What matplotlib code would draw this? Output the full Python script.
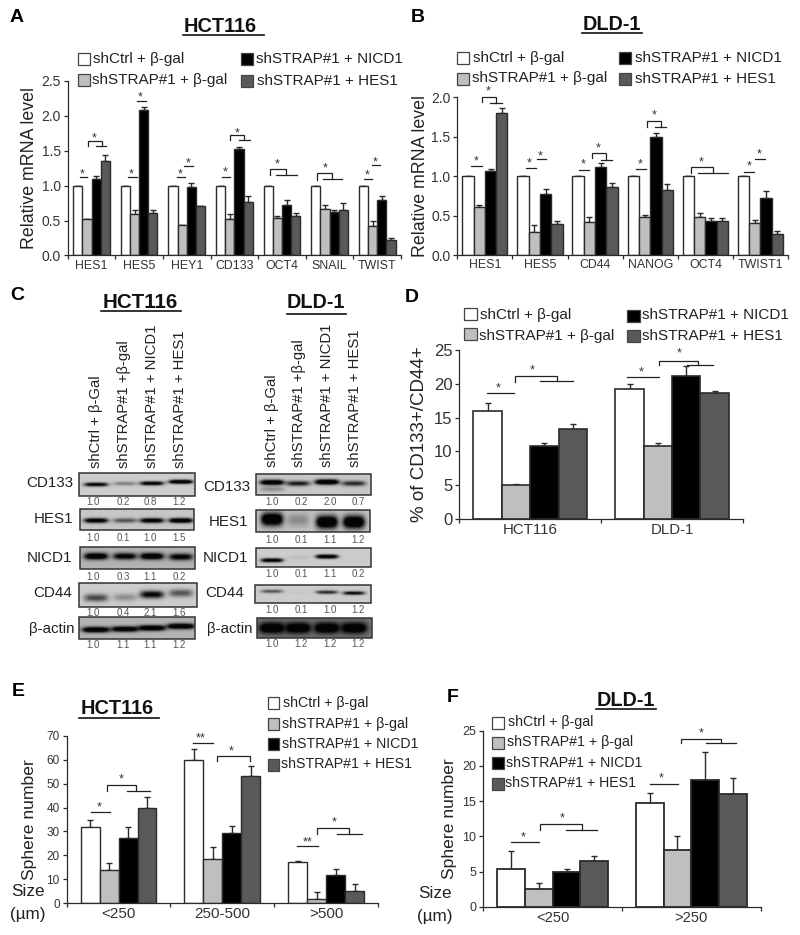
import numpy as np
import matplotlib
matplotlib.use('Agg')
import matplotlib.pyplot as plt
from matplotlib.patches import Rectangle

plt.rcParams['font.family'] = ['Liberation Sans', 'DejaVu Sans']

W, H = 800, 935
COLORS = ['white', '#bfbfbf', 'black', '#595959']
EDGE = '#2b2b2b'
TXT = '#222222'
LEGEND = ['shCtrl + β-gal', 'shSTRAP#1 + β-gal', 'shSTRAP#1 + NICD1', 'shSTRAP#1 + HES1']

# panel A
a_genes = ['HES1', 'HES5', 'HEY1', 'CD133', 'OCT4', 'SNAIL', 'TWIST']
a_ctrl = [1.0, 1.0, 1.0, 1.0, 1.0, 1.0, 1.0]
a_strap = [0.52, 0.60, 0.44, 0.52, 0.54, 0.66, 0.42]
a_nicd = [1.10, 2.08, 0.98, 1.53, 0.72, 0.62, 0.80]
a_hes = [1.35, 0.61, 0.71, 0.77, 0.57, 0.65, 0.22]
a_strap_err = [0.0, 0.05, 0.0, 0.08, 0.03, 0.06, 0.07]
a_nicd_err = [0.04, 0.05, 0.06, 0.03, 0.07, 0.03, 0.05]
a_hes_err = [0.09, 0.04, 0.0, 0.08, 0.04, 0.10, 0.03]

# panel B
b_genes = ['HES1', 'HES5', 'CD44', 'NANOG', 'OCT4', 'TWIST1']
b_ctrl = [1.0, 1.0, 1.0, 1.0, 1.0, 1.0]
b_strap = [0.61, 0.30, 0.42, 0.48, 0.48, 0.41]
b_nicd = [1.07, 0.77, 1.12, 1.50, 0.43, 0.72]
b_hes = [1.80, 0.40, 0.87, 0.83, 0.43, 0.27]
b_strap_err = [0.03, 0.08, 0.07, 0.03, 0.06, 0.04]
b_nicd_err = [0.02, 0.07, 0.05, 0.05, 0.04, 0.10]
b_hes_err = [0.06, 0.03, 0.05, 0.07, 0.04, 0.04]

# panel D
d_lines = ['HCT116', 'DLD-1']
d_ctrl = [16.0, 19.2]
d_strap = [5.0, 10.8]
d_nicd = [10.8, 21.1]
d_hes = [13.3, 18.7]
d_ctrl_err = [1.2, 0.8]
d_strap_err = [0.2, 0.4]
d_nicd_err = [0.4, 1.5]
d_hes_err = [0.8, 0.2]

# panel E
e_sizes = ['<250', '250-500', '>500']
e_ctrl = [32.0, 60.0, 17.2]
e_strap = [14.0, 18.5, 2.0]
e_nicd = [27.3, 29.2, 12.0]
e_hes = [39.7, 53.0, 5.2]
e_ctrl_err = [3.0, 4.5, 0.6]
e_strap_err = [2.8, 5.0, 2.6]
e_nicd_err = [4.5, 3.0, 2.4]
e_hes_err = [4.7, 4.3, 3.0]

# panel F
f_sizes = ['<250', '>250']
f_ctrl = [5.4, 14.7]
f_strap = [2.5, 8.0]
f_nicd = [5.0, 18.0]
f_hes = [6.5, 16.0]
f_ctrl_err = [2.5, 1.5]
f_strap_err = [0.8, 2.0]
f_nicd_err = [0.4, 4.0]
f_hes_err = [0.7, 2.3]

# panel C, band strength per lane and the quantification under each blot
blot_lanes = ['shCtrl + β-Gal', 'shSTRAP#1 +β-gal', 'shSTRAP#1 + NICD1', 'shSTRAP#1 + HES1']
hct_cd133 = [0.75, 0.25, 0.80, 0.95]
hct_hes1 = [0.85, 0.40, 0.85, 0.95]
hct_nicd1 = [0.90, 0.75, 0.90, 0.75]
hct_cd44 = [0.45, 0.20, 0.70, 0.40]
hct_actin = [0.95, 0.90, 0.95, 0.95]
dld_cd133 = [0.95, 0.60, 1.00, 0.55]
dld_hes1 = [1.00, 0.20, 1.00, 1.00]
dld_nicd1 = [0.85, 0.05, 0.95, 0.0]
dld_cd44 = [0.40, 0.02, 0.55, 0.70]
dld_actin = [1.00, 1.00, 1.00, 1.00]
hct_cd133_q = ['1.0', '0.2', '0.8', '1.2']
hct_hes1_q = ['1.0', '0.1', '1.0', '1.5']
hct_nicd1_q = ['1.0', '0.3', '1.1', '0.2']
hct_cd44_q = ['1.0', '0.4', '2.1', '1.6']
hct_actin_q = ['1.0', '1.1', '1.1', '1.2']
dld_cd133_q = ['1.0', '0.2', '2.0', '0.7']
dld_hes1_q = ['1.0', '0.1', '1.1', '1.2']
dld_nicd1_q = ['1.0', '0.1', '1.1', '0.2']
dld_cd44_q = ['1.0', '0.1', '1.0', '1.2']
dld_actin_q = ['1.0', '1.2', '1.2', '1.2']

fig = plt.figure(figsize=(W / 100, H / 100), dpi=100)


def panel(x0, x1, ytop, ybot):
    return fig.add_axes([x0 / W, 1 - ybot / H, (x1 - x0) / W, (ybot - ytop) / H])


def bars(ax, labels, series, errs, ymax, yticks, fmt, frac, ylabel, lab_size, tick_size, xsize, label_x, edge=1.0):
    n = len(labels)
    w = frac / 4
    for k in range(4):
        xs = np.arange(n) + 0.5 + (k - 1.5) * w
        ax.bar(xs, series[k], w, color=COLORS[k], edgecolor=EDGE, linewidth=edge, zorder=2)
        low = np.zeros(n)
        ax.errorbar(xs, series[k], yerr=[low, errs[k]], fmt='none', ecolor=EDGE,
                    elinewidth=1.0, capsize=2.5, capthick=1.0, zorder=1)
    ax.set_xlim(0, n)
    ax.set_ylim(0, ymax)
    ax.set_yticks(yticks)
    ax.set_yticklabels([fmt % t for t in yticks], fontsize=tick_size, color='#333333')
    ax.set_xticks(np.arange(n + 1))
    ax.set_xticklabels([])
    ax.set_xticks(np.arange(n) + 0.5, labels, minor=True, fontsize=xsize, color='#333333')
    ax.tick_params(axis='x', which='minor', length=0, pad=3)
    ax.tick_params(axis='x', which='major', length=3, width=0.9, color=EDGE)
    ax.tick_params(axis='y', length=3, width=0.9, color=EDGE, pad=2)
    for s in ['top', 'right']:
        ax.spines[s].set_visible(False)
    for s in ['left', 'bottom']:
        ax.spines[s].set_linewidth(0.9)
        ax.spines[s].set_color(EDGE)
    ax.patch.set_alpha(0)
    ax.set_ylabel(ylabel, fontsize=lab_size, color=TXT)
    ax.yaxis.set_label_coords(label_x, 0.5)


ax_a = panel(67.7, 401, 81, 255.5)
bars(ax_a, a_genes, [a_ctrl, a_strap, a_nicd, a_hes],
     [np.zeros(7), a_strap_err, a_nicd_err, a_hes_err],
     2.5, [0, 0.5, 1.0, 1.5, 2.0, 2.5], '%.1f', 0.77, 'Relative mRNA level', 12.8, 10, 8.9, -0.09)

ax_b = panel(457.3, 788, 97.3, 255.3)
bars(ax_b, b_genes, [b_ctrl, b_strap, b_nicd, b_hes],
     [np.zeros(6), b_strap_err, b_nicd_err, b_hes_err],
     2.0, [0, 0.5, 1.0, 1.5, 2.0], '%.1f', 0.82, 'Relative mRNA level', 12.8, 10, 8.9, -0.085)

ax_d = panel(459.3, 743, 350, 519)
bars(ax_d, d_lines, [d_ctrl, d_strap, d_nicd, d_hes],
     [d_ctrl_err, d_strap_err, d_nicd_err, d_hes_err],
     25, [0, 5, 10, 15, 20, 25], '%d', 0.80, '% of CD133+/CD44+', 13.5, 12, 10.8, -0.11, edge=1.2)

ax_e = panel(66.7, 378, 735.7, 903.3)
bars(ax_e, e_sizes, [e_ctrl, e_strap, e_nicd, e_hes],
     [e_ctrl_err, e_strap_err, e_nicd_err, e_hes_err],
     70, [0, 10, 20, 30, 40, 50, 60, 70], '%d', 0.73, 'Sphere number', 12.6, 8.5, 11, -0.095)

ax_f = panel(483.3, 760.7, 730.7, 906.7)
bars(ax_f, f_sizes, [f_ctrl, f_strap, f_nicd, f_hes],
     [f_ctrl_err, f_strap_err, f_nicd_err, f_hes_err],
     25, [0, 5, 10, 15, 20, 25], '%d', 0.80, 'Sphere number', 12.6, 9, 10.6, -0.095, edge=1.3)

# everything else sits on a pixel overlay
ov = fig.add_axes([0, 0, 1, 1], zorder=5)
ov.patch.set_alpha(0)
ov.axis('off')


def letter(x, y, s):
    ov.text(x, y, s, fontsize=14, fontweight='bold', color='black', ha='left', va='center')


def title(cx, cy, s, x0, x1, uy, size=14.3):
    ov.text(cx, cy, s, fontsize=size, fontweight='bold', color='#111111', ha='center', va='center')
    ov.plot([x0, x1], [uy, uy], color='#111111', lw=1.2)


def legend(items, box_w, box_h, size):
    # items: box left, box top, text left, text centre
    for k, (bx, by, tx, ty) in enumerate(items):
        ov.add_patch(Rectangle((bx, by), box_w, box_h, facecolor=COLORS[k], edgecolor='#444444', lw=0.9))
        ov.text(tx, ty, LEGEND[k], fontsize=size, color=TXT, ha='left', va='center')


def marks(bx, by, lines, stars):
    for pts in lines:
        xs = [bx + p[0] / 3 for p in pts]
        ys = [by + p[1] / 3 for p in pts]
        ov.plot(xs, ys, color='#222222', lw=0.9, solid_joinstyle='miter')
    for x, y, s in stars:
        ov.text(bx + x / 3, by + y / 3 + 1.5, s, fontsize=9, color='#333333', ha='center', va='center')


def hline(x0, x1, y):
    return [(x0, y), (x1, y)]


def brace(x0, x1, ytop, y0, y1):
    return [(x0, y0), (x0, ytop), (x1, ytop), (x1, y1)]


letter(10, 17, 'A')
letter(411, 17, 'B')
letter(10, 296, 'C')
letter(405, 298, 'D')
letter(12, 692, 'E')
letter(447, 698, 'F')

title(220, 26, 'HCT116', 183, 264, 35)
title(612, 25, 'DLD-1', 582, 642, 33)
title(140, 302, 'HCT116', 101, 181, 311, 14.8)
title(316, 303, 'DLD-1', 287, 346, 314)
title(117, 709, 'HCT116', 79, 159, 718)
title(626, 700, 'DLD-1', 596, 656, 709)

legend([(78, 53, 93, 59), (78, 74, 92, 80), (241, 53, 256, 59), (241, 75, 257, 81)], 12, 12, 11)
legend([(457, 52, 473, 58), (457, 73, 472, 78), (619, 52, 635, 58), (619, 73, 635, 79)], 12, 12, 11)
legend([(464, 308, 480, 315), (464, 328, 479, 336), (627, 310, 642, 315), (627, 330, 642, 336)], 13, 12, 11)
legend([(268, 697, 283, 703), (268, 718, 282, 724), (268, 738, 282, 744), (268, 759, 281, 764)], 11, 12, 10.2)
legend([(492, 717, 508, 722), (492, 737, 507, 742), (492, 757, 506, 763), (492, 778, 505, 783)], 12, 12, 10.2)

marks(0, 0,
      [hline(240, 262, 531), brace(263, 305, 424, 438, 437), hline(287, 317, 437),
       hline(385, 410, 531), hline(410, 437, 303),
       hline(532, 555, 531), hline(553, 580, 498),
       hline(666, 690, 531), brace(690, 733, 406, 420, 420), hline(717, 750, 419),
       brace(811, 857, 508, 526, 525), hline(828, 890, 525),
       brace(952, 997, 520, 540, 537), hline(968, 1027, 537),
       hline(1093, 1115, 537), hline(1115, 1140, 496)],
      [(248, 520, '*'), (283, 412, '*'), (395, 520, '*'), (422, 288, '*'), (542, 520, '*'),
       (565, 487, '*'), (677, 513, '*'), (711, 396, '*'), (833, 488, '*'), (975, 500, '*'),
       (1103, 522, '*'), (1127, 482, '*')])
marks(400, 0,
      [hline(213, 245, 498), brace(245, 288, 291, 307, 309), hline(270, 305, 309),
       hline(378, 408, 505), hline(410, 438, 478),
       hline(537, 568, 510), brace(575, 617, 459, 475, 479), hline(603, 635, 479),
       hline(707, 737, 508), brace(740, 783, 364, 380, 381), hline(765, 797, 381),
       brace(873, 938, 502, 518, 520), hline(895, 985, 520),
       hline(1033, 1063, 517), hline(1065, 1095, 478)],
      [(228, 480, '*'), (266, 270, '*'), (388, 487, '*'), (421, 466, '*'), (551, 490, '*'),
       (596, 440, '*'), (722, 490, '*'), (762, 342, '*'), (905, 484, '*'), (1047, 496, '*'),
       (1079, 460, '*')])
marks(400, 300,
      [hline(260, 343, 279), brace(345, 470, 227, 245, 243), hline(420, 520, 243),
       hline(680, 778, 232), brace(778, 893, 182, 195, 195), hline(860, 938, 195)],
      [(296, 260, '*'), (397, 207, '*'), (725, 214, '*'), (838, 157, '*')])
marks(0, 680,
      [hline(272, 330, 397), brace(321, 407, 316, 332, 334), hline(382, 450, 334),
       hline(578, 638, 189), brace(650, 750, 227, 243, 243),
       hline(892, 955, 499), brace(952, 1048, 443, 462, 463), hline(1010, 1085, 463)],
      [(297, 378, '*'), (363, 295, '*'), (602, 171, '**'), (695, 211, '*'),
       (922, 483, '**'), (1003, 424, '*')])
marks(420, 680,
      [hline(273, 357, 486), brace(360, 485, 431, 449, 449), hline(437, 532, 449),
       hline(690, 773, 313), brace(783, 902, 177, 190, 189), hline(858, 947, 189)],
      [(310, 467, '*'), (426, 411, '*'), (725, 291, '*'), (843, 157, '*')])

for x, y1, y2 in [(28, 891, 914), (435, 893, 916)]:
    ov.text(x, y1, 'Size', fontsize=12.3, color=TXT, ha='center', va='center')
    ov.text(x, y2, '(µm)', fontsize=12.3, color=TXT, ha='center', va='center')


def blot(rect, name, name_xy, strengths, ycs, thick, bg, halfw, lanes, quant, quant_xs, quant_y, extra=None):
    x0, x1, y0, y1 = rect
    nx, ny = int((x1 - x0) * 3), int((y1 - y0) * 3)
    xx, yy = np.meshgrid(np.linspace(x0, x1, nx), np.linspace(y0, y1, ny))
    img = np.full(xx.shape, bg)
    for s, yc, lx in zip(strengths, ycs, lanes):
        cy = y0 + yc * (y1 - y0)
        prof = np.exp(-((xx - lx) / halfw) ** 4) * np.exp(-((yy - cy) / thick) ** 2)
        img = img * (1 - np.clip(1.5 * s * prof, 0, 0.97))
    if extra is not None:
        lx, yc, s = extra
        cy = y0 + yc * (y1 - y0)
        img = img * (1 - s * np.exp(-((xx - lx) / halfw) ** 4) * np.exp(-((yy - cy) / thick) ** 2))
    ov.imshow(img, extent=(x0, x1, y1, y0), cmap='gray', vmin=0, vmax=1, aspect='auto', interpolation='bilinear', zorder=2)
    ov.add_patch(Rectangle((x0, y0), x1 - x0, y1 - y0, fill=False, edgecolor='#333333', lw=1.1, zorder=3))
    ov.text(name_xy[0], name_xy[1], name, fontsize=10.9, color=TXT, ha='right', va='center')
    for q, qx in zip(quant, quant_xs):
        ov.text(qx, quant_y, q, fontsize=7, color='#555555', ha='center', va='center')


hl = [96, 125, 152, 181]
hq = [93, 123, 150, 179]
dl = [272, 298, 327, 354]
dq = [272, 301, 330, 358]

blot((79, 195, 473, 496), 'CD133', (73, 483), hct_cd133, [0.5, 0.46, 0.45, 0.38], 2.0, 0.80, 12, hl, hct_cd133_q, hq, 502)
blot((80, 194, 509, 530), 'HES1', (73, 519), hct_hes1, [0.55, 0.55, 0.55, 0.55], 2.4, 0.78, 12, hl, hct_hes1_q, hq, 538)
blot((80, 195, 547, 569), 'NICD1', (72, 558), hct_nicd1, [0.42, 0.42, 0.42, 0.45], 3.4, 0.70, 12, hl, hct_nicd1_q, hq, 577)
blot((79, 197, 583, 607), 'CD44', (72, 593), hct_cd44, [0.62, 0.6, 0.48, 0.42], 3.8, 0.80, 12, hl, hct_cd44_q, hq, 613)
blot((79, 195, 617, 639), 'β-actin', (75, 629), hct_actin, [0.58, 0.55, 0.5, 0.42], 2.8, 0.70, 14, hl, hct_actin_q, hq, 645)

blot((256, 371, 474, 495), 'CD133', (250, 487), dld_cd133, [0.4, 0.45, 0.38, 0.45], 2.6, 0.78, 12, dl, dld_cd133_q, dq, 502, extra=(272, 0.72, 0.3))
blot((256, 370, 510, 532), 'HES1', (248, 522), dld_hes1, [0.42, 0.45, 0.55, 0.55], 6.5, 0.76, 11, dl, dld_hes1_q, dq, 540)
blot((256, 371, 548, 567), 'NICD1', (248, 558), dld_nicd1, [0.65, 0.5, 0.45, 0.5], 2.0, 0.80, 11, dl, dld_nicd1_q, dq, 574)
blot((255, 371, 585, 603), 'CD44', (244, 593), dld_cd44, [0.35, 0.4, 0.4, 0.45], 1.8, 0.80, 11, dl, dld_cd44_q, dq, 610)
blot((257, 372, 618, 638), 'β-actin', (252, 629), dld_actin, [0.5, 0.5, 0.5, 0.5], 5.5, 0.45, 13, dl, dld_actin_q, dq, 644)

for xs, yb in [([96, 124, 152, 180], 468), ([272, 299, 327, 355], 467)]:
    for x, s in zip(xs, blot_lanes):
        ov.text(x, yb, s, fontsize=10.7, color=TXT, rotation=90, ha='center', va='bottom')

ov.set_xlim(0, W)
ov.set_ylim(H, 0)

fig.savefig('out.png', dpi=100)
